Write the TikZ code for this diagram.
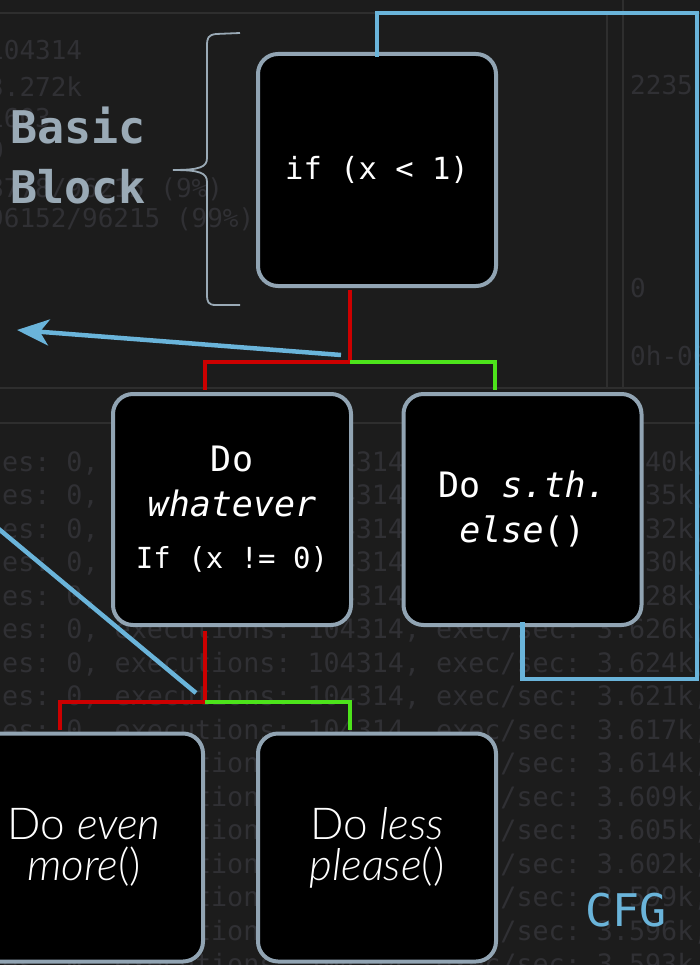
\documentclass[tikz,border=0pt]{standalone}
\usepackage{fontspec}
\setmonofont{DejaVu Sans Mono}
\newfontfamily\lightsans{Lato}[UprightFont={* Light},ItalicFont={* Light Italic}]
\usetikzlibrary{arrows.meta,calc}
\definecolor{bgcol}{HTML}{1C1C1C}
\definecolor{panelline}{HTML}{2E2E2E}
\definecolor{faint}{HTML}{303034}
\definecolor{boxborder}{HTML}{91A4B3}
\definecolor{bluec}{HTML}{6AB4DA}
\definecolor{redc}{HTML}{CC0000}
\definecolor{greenc}{HTML}{4DE31B}
\definecolor{labelc}{HTML}{9AAAB6}
\tikzset{
  blockbox/.style={draw=boxborder, line width=4pt, fill=black, rounded corners=20pt,
    minimum width=238pt, minimum height=232pt, inner sep=0pt, align=center, text=white},
  monotext/.style={font=\ttfamily\fontsize{35}{45}\selectfont},
  sanstext/.style={font=\lightsans\fontsize{44}{41}\selectfont},
  bgtext/.style={anchor=base west, inner sep=0pt, text=faint, font=\ttfamily\fontsize{26.7}{30}\selectfont},
  bluel/.style={draw=bluec, line width=4.5pt},
  redl/.style={draw=redc, line width=4.5pt},
  greenl/.style={draw=greenc, line width=4.5pt},
  panel/.style={draw=panelline, line width=1.5pt}
}
\begin{document}
\begin{tikzpicture}[x=1pt,y=-1pt]
\useasboundingbox (0,0) rectangle (700,965);
\clip (0,0) rectangle (700,965);
\fill[bgcol] (0,0) rectangle (700,965);
% panel lines
\draw[panel] (0,13) -- (700,13);
\draw[panel] (607,13) -- (607,388);
\draw[panel] (623,0) -- (623,388);
\draw[panel] (0,388) -- (700,388);
\draw[panel] (0,423) -- (700,423);
% faint background text
\node[bgtext,font=\ttfamily\fontsize{26}{30}\selectfont] (t1) at (-12,60) {104314};
\node[bgtext,font=\ttfamily\fontsize{26}{30}\selectfont] (t2) at (-12,97) {3.272k};
\node[bgtext,font=\ttfamily\fontsize{26}{30}\selectfont] (t3) at (-12,128) {1603};
\node[bgtext,font=\ttfamily\fontsize{26}{30}\selectfont] (t4) at (-12,160) {0};
\node[bgtext,font=\ttfamily\fontsize{26}{30}\selectfont] (t5) at (-12,198) {8778/96215 (9\%)};
\node[bgtext,font=\ttfamily\fontsize{26}{30}\selectfont] (t6) at (-12,228) {96152/96215 (99\%)};
\node[bgtext,font=\ttfamily\fontsize{26}{30}\selectfont] (r1t) at (630,95) {2235};
\node[bgtext,font=\ttfamily\fontsize{26}{30}\selectfont] (r2t) at (630,298) {0};
\node[bgtext,font=\ttfamily\fontsize{26}{30}\selectfont] (r3t) at (630,365) {0h-00m};
\foreach \val [count=\k from 0] in {640,635,632,630,628,626,624,621,617,614,609,605,602,599,596,593}{
  \node[bgtext] (row\k) at (2,{471+33.5*\k}) {es: 0, executions: 104314, exec/sec: 3.\val k,};
}
% label and brace
\node[anchor=west, inner sep=0pt, align=left, text=labelc,
      font=\ttfamily\bfseries\fontsize{45}{60}\selectfont] (bb) at (10,156) {Basic\\Block};
\draw[labelc, line width=1.8pt] (240,33) -- (216,34) .. controls (208,35) and (207,38) .. (207,46)
  -- (207,158) .. controls (207,167) and (200,170) .. (173,170)
  .. controls (200,170) and (207,173) .. (207,182)
  -- (207,294) .. controls (207,302) and (208,305) .. (216,305) -- (240,305);
% blocks
\node[blockbox, font=\ttfamily\fontsize{30.5}{38}\selectfont] (A) at (377,170) {if (x < 1)};
\node[blockbox, monotext, minimum height=231pt] (B) at (232,509.5)
  {Do\\\textit{whatever}\\[7pt]{\fontsize{29}{36}\selectfont If (x != 0)}};
\node[blockbox, monotext, minimum height=231pt] (C) at (522.5,509.5) {Do \textit{s.th.}\\\textit{else}()};
\node[blockbox, sanstext, minimum height=228pt] (D) at (84,847.5) {Do \textit{even}\\\textit{more}()};
\node[blockbox, sanstext, minimum height=228pt] (E) at (377,847.5) {Do \textit{less}\\\textit{please}()};
\node[inner sep=0pt, text=bluec, font=\ttfamily\fontsize{45}{50}\selectfont] (cfg) at (626,910) {CFG};
% connectors
\coordinate (j1) at (350,362);
\coordinate (j2) at (205,702);
\draw[redl] ([yshift=-2pt]A.south -| j1) -- (j1) -| ([xshift=-27pt,yshift=2pt]B.north);
\draw[greenl] (j1) -| ([xshift=-27.5pt,yshift=2pt]C.north);
\draw[redl] ([yshift=-4pt]B.south -| j2) -- (j2) -| ([xshift=-24pt,yshift=2pt]D.north);
\draw[greenl] (j2) -| ([xshift=-27pt,yshift=2pt]E.north);
\coordinate (lp1) at (697,679);
\coordinate (lp2) at (697,13);
\draw[bluel] ([yshift=5pt]C.south) |- (lp1) -- (lp2) -| ([yshift=-5pt]A.north);
\coordinate (ar1) at (341,355);
\coordinate (ar2) at (17,330);
\draw[bluel, -{Stealth[length=32pt,width=26pt,inset=9pt]}] (ar1) -- (ar2);
\coordinate (d1) at (-20,513.4);
\coordinate (d2) at (196,693);
\draw[bluel] (d1) -- (d2);
\end{tikzpicture}
\end{document}
